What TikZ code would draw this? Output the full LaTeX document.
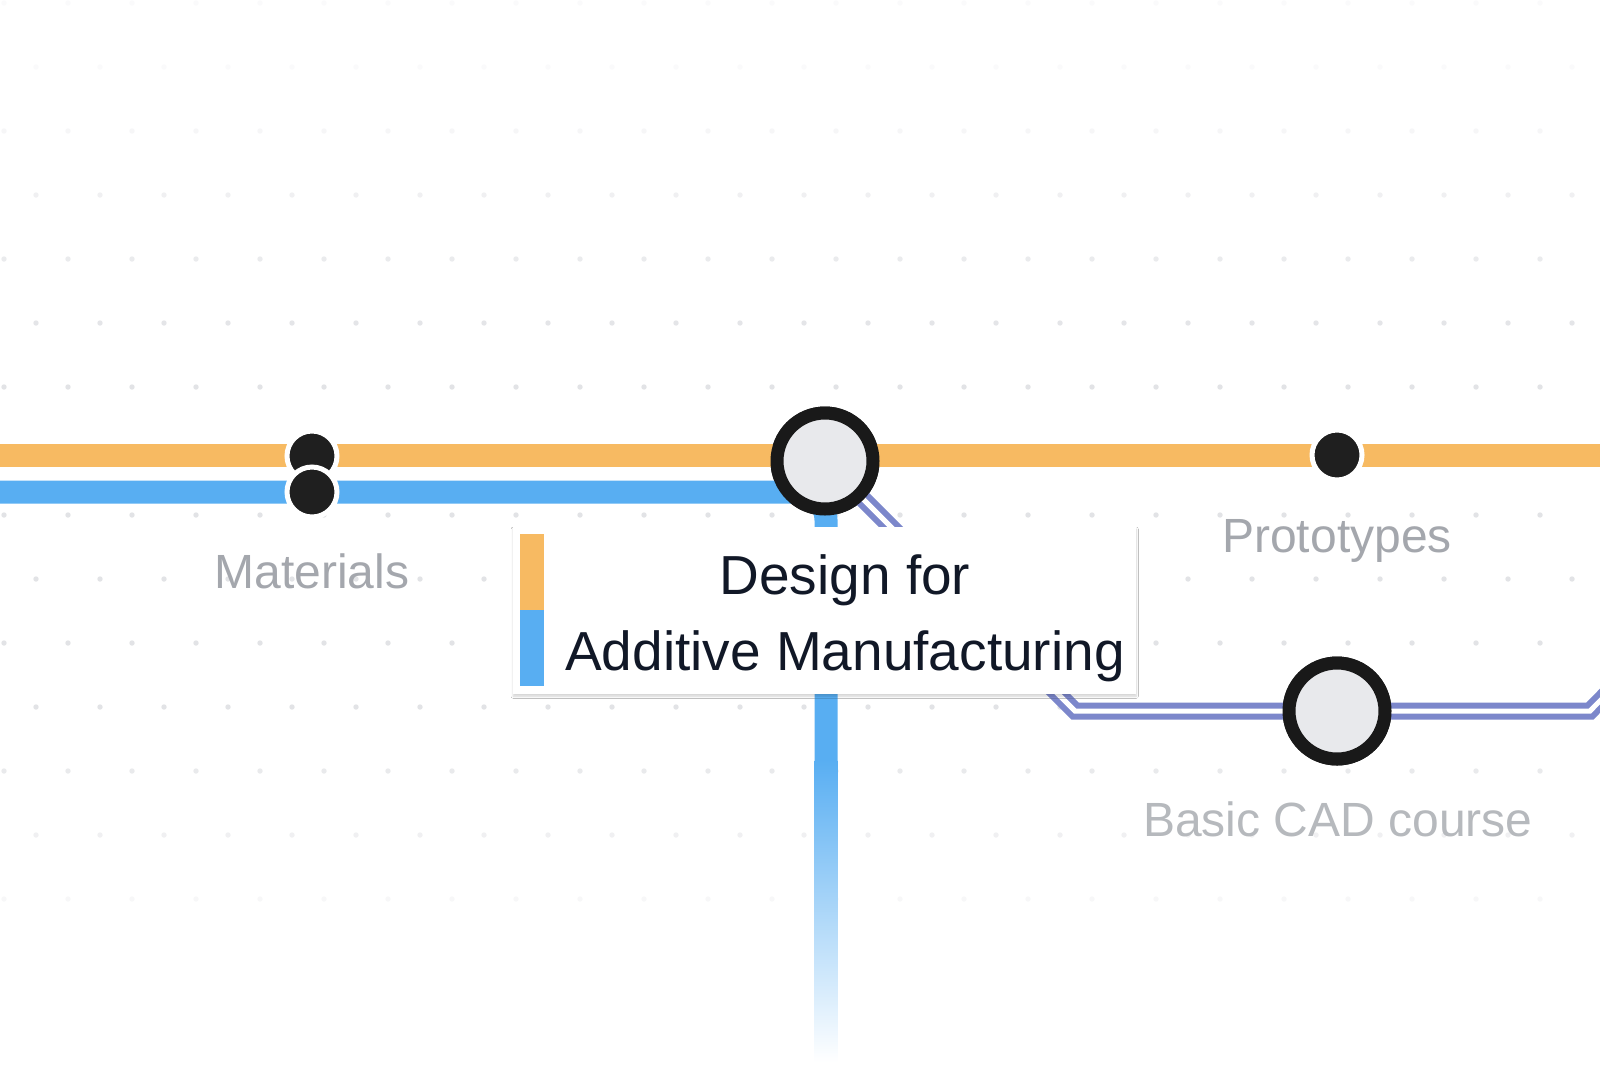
\documentclass[tikz,border=0pt]{standalone}
\usepackage{fontspec}
\setmainfont{Liberation Sans}
\usetikzlibrary{shadows.blur}
\definecolor{orangeL}{HTML}{F7BA62}
\definecolor{blueL}{HTML}{58AEF2}
\definecolor{purpleL}{HTML}{7C87CB}
\definecolor{dotC}{HTML}{E2E3E6}
\definecolor{labelC}{HTML}{A4A7AD}
\definecolor{hubFill}{HTML}{E8E9EC}
\definecolor{inkC}{HTML}{111827}
\tikzset{
  line/.style={line width=23pt},
  hub/.style={circle, draw=black!90, line width=13pt, fill=hubFill, minimum size=96pt, inner sep=0pt, blur shadow={shadow blur steps=6, shadow xshift=0pt, shadow yshift=-3pt, shadow opacity=25}},
  stop/.style={circle, fill=black!88, draw=white, line width=5pt, minimum size=50pt, inner sep=0pt},
  station/.style={text=labelC, font=\fontsize{48}{52}\selectfont},
  purple/.style={double=white, draw=purpleL, line width=6pt, double distance=5pt}
}
\begin{document}
\begin{tikzpicture}[x=1pt,y=-1pt]
\useasboundingbox (0,0) rectangle (1600,1080);
\fill[white] (0,0) rectangle (1600,1080);
% dot grid
\foreach \k in {0,...,14}{
  \pgfmathsetmacro{\yy}{3+64*\k}
  \pgfmathsetmacro{\op}{min(1,max(0.15,(\k-0.5)/5), max(0.2,(15-\k)/4))}
  \pgfmathsetmacro{\xo}{mod(\k,2)==1 ? 36 : 4}
  \foreach \i in {0,...,25}{
    \fill[dotC, opacity=\op] (\xo+64*\i,\yy) circle (2.7);
  }
}
\coordinate (pr) at (1640,660);
\coordinate (pc) at (1075,711);
\node[hub] (dfam) at (825,461) {};
\node[hub] (cad) at (1337,711) {};
\coordinate (ol) at (-10,455);
\coordinate (or) at (1610,455);
\coordinate (bl) at (-10,492);
\draw[purple] (dfam.center) -- (pc) -- (1590,711) -- (pr);
\draw[line, orangeL] (ol) -- (or);
\draw[line, blueL] (bl) -- (800,492) to[out=0,in=90] (826,520) -- (826,760);
\shade[top color=blueL, bottom color=white] (814.5,760) rectangle (837.5,1062);
\node[hub] at (825,461) {};
\node[hub] at (1337,711) {};
\node[stop] (mat1) at (312,456) {};
\node[stop] (mat2) at (312,492) {};
\node[stop] (proto) at (1337,455) {};
% label box
\node[draw=none, fill=white, minimum width=623pt, minimum height=167pt, anchor=north west,
  blur shadow={shadow blur steps=8, shadow xshift=0pt, shadow yshift=-2pt, shadow opacity=18}] (box) at (513,527) {};
\fill[orangeL] (520,534) rectangle (544,610);
\fill[blueL] (520,610) rectangle (544,686);
\node[text=inkC, font=\fontsize{55}{58}\selectfont] (t1) at (845,580) {Design for};
\node[text=inkC, font=\fontsize{55}{58}\selectfont] (t2) at (845,656) {Additive Manufacturing};
\node[station] (lm) at (312,571) {Materials};
\node[station] (lp) at (1337,541) {Prototypes};
\node[station, text=labelC!80] (lc) at (1338,819) {Basic CAD course};
\end{tikzpicture}
\end{document}
